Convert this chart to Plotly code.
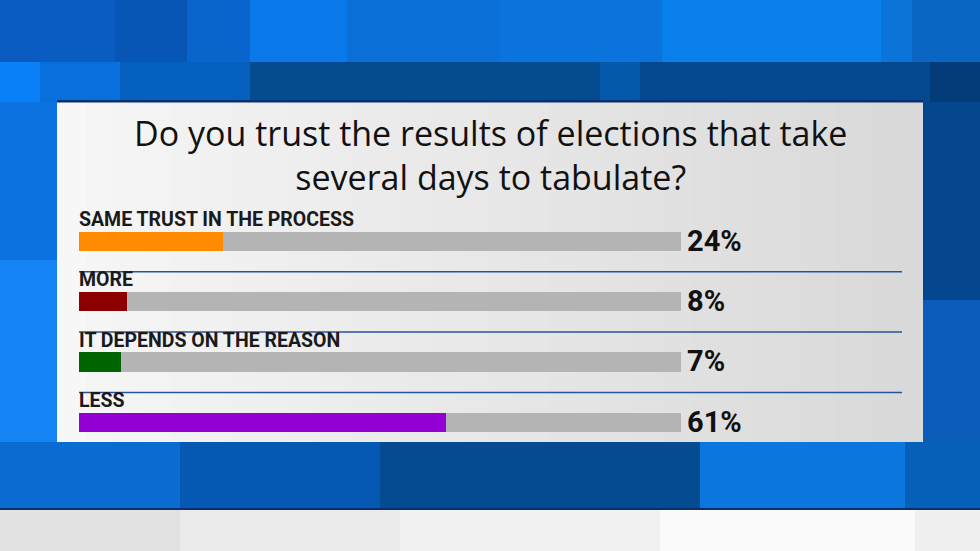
import plotly.graph_objects as go

# datos de la encuesta
categorias = ["SAME TRUST IN THE PROCESS", "MORE", "IT DEPENDS ON THE REASON", "LESS"]
porcentajes = [24, 8, 7, 61]
colores = ["darkorange", "darkred", "darkgreen", "darkviolet"]
etiquetas_pct = ["24%", "8%", "7%", "61%"]
titulo = "Do you trust the results of elections that take<br>several days to tabulate?"

W, H = 980, 551


def px(x):
    return x / W


def py(y):
    return 1 - y / H


def rect(x0, y0, x1, y1, color):
    return dict(type="rect", xref="paper", yref="paper", layer="below",
                x0=px(x0), x1=px(x1), y0=py(y1), y1=py(y0),
                fillcolor=color, line=dict(width=0))


fondo = []
# franja superior
for x0, x1, c in [(0, 115, "#0a5cc0"), (115, 187, "#0755b5"), (187, 250, "#0a64cc"),
                  (250, 347, "#0a78e8"), (347, 500, "#0a70d8"), (500, 662, "#0a74dc"),
                  (662, 881, "#0a80ec"), (881, 912, "#0a74d8"), (912, 980, "#0a66c2")]:
    fondo.append(rect(x0, 0, x1, 62, c))
# franja media
for x0, x1, c in [(0, 40, "#0a80f8"), (40, 120, "#0870dc"), (120, 250, "#0660c0"),
                  (250, 600, "#054b90"), (600, 640, "#0459aa"), (640, 930, "#044890"),
                  (930, 980, "#033c78")]:
    fondo.append(rect(x0, 62, x1, 102, c))
# laterales
fondo.append(rect(0, 102, 57, 260, "#0c72e0"))
fondo.append(rect(0, 260, 57, 442, "#1484f4"))
fondo.append(rect(923, 102, 980, 300, "#05478e"))
fondo.append(rect(923, 300, 980, 442, "#0a5cb8"))
# franja inferior azul
for x0, x1, c in [(0, 180, "#0a6cd0"), (180, 380, "#0659b2"), (380, 700, "#044b92"),
                  (700, 905, "#0a76de"), (905, 980, "#0660b8")]:
    fondo.append(rect(x0, 442, x1, 509, c))
fondo.append(rect(0, 508, 980, 510, "#0a2f6e"))
# franja gris inferior
for x0, x1, c in [(0, 180, "#e2e2e2"), (180, 400, "#ebebeb"), (400, 660, "#f1f1f1"),
                  (660, 915, "#fafafa"), (915, 980, "#f0f0f0")]:
    fondo.append(rect(x0, 510, x1, 551, c))
# panel con degradado horizontal (franjas solapadas para evitar costuras)
n = 30
fondo.append(rect(57, 102, 923, 442, "rgb(247,247,247)"))
for i in range(1, n):
    t = i / (n - 1)
    g = int(247 - t * 30)
    fondo.append(rect(57 + i * 866 / n, 102, 923, 442, f"rgb({g},{g},{g})"))
fondo.append(rect(57, 100, 923, 102.5, "#0a2f6e"))

# lineas separadoras entre filas
separadores = [dict(type="line", xref="x", yref="y", x0=0, x1=136.7,
                    y0=i + 0.5, y1=i + 0.5, line=dict(color="#2453a0", width=1.5))
               for i in range(len(categorias) - 1)]

filas = list(range(len(categorias)))

fig = go.Figure()
fig.add_trace(go.Bar(x=[100] * len(filas), y=filas, orientation="h", width=0.315,
                     marker=dict(color="#b4b4b4", line=dict(width=0)),
                     hoverinfo="skip", showlegend=False))
fig.add_trace(go.Bar(x=porcentajes, y=filas, orientation="h", width=0.315,
                     marker=dict(color=colores, line=dict(width=0)),
                     showlegend=False))

anotaciones = []
for i, (cat, lab) in enumerate(zip(categorias, etiquetas_pct)):
    anotaciones.append(dict(x=0, y=i, xref="x", yref="y", text=cat, showarrow=False,
                            xanchor="left", yanchor="middle", xshift=-2, yshift=22,
                            font=dict(family="Roboto", size=19.5, color="#1a1a1a",
                                      weight="bold")))
    anotaciones.append(dict(x=100, y=i, xref="x", yref="y", text=lab, showarrow=False,
                            xanchor="left", yanchor="middle", xshift=4, yshift=1,
                            font=dict(family="Roboto", size=29, color="#111111",
                                      weight="bold")))
anotaciones.append(dict(x=0.5, y=py(155), xref="paper", yref="paper", text=titulo,
                        showarrow=False, xanchor="center", yanchor="middle",
                        font=dict(family="Open Sans", size=34, color="#111111")))

fig.update_layout(
    width=W, height=H, margin=dict(l=0, r=0, t=0, b=0),
    paper_bgcolor="#0a5cb8", plot_bgcolor="rgba(0,0,0,0)",
    barmode="overlay", bargap=0,
    xaxis=dict(domain=[px(79), px(902)], range=[0, 136.7], visible=False, fixedrange=True),
    yaxis=dict(domain=[py(452.9), py(211.3)], range=[3.5, -0.5], visible=False,
               fixedrange=True),
    shapes=fondo + separadores,
    annotations=anotaciones,
)

fig.write_html("out.html", config={"displayModeBar": False},
               post_script="document.body.style.margin='0';")
